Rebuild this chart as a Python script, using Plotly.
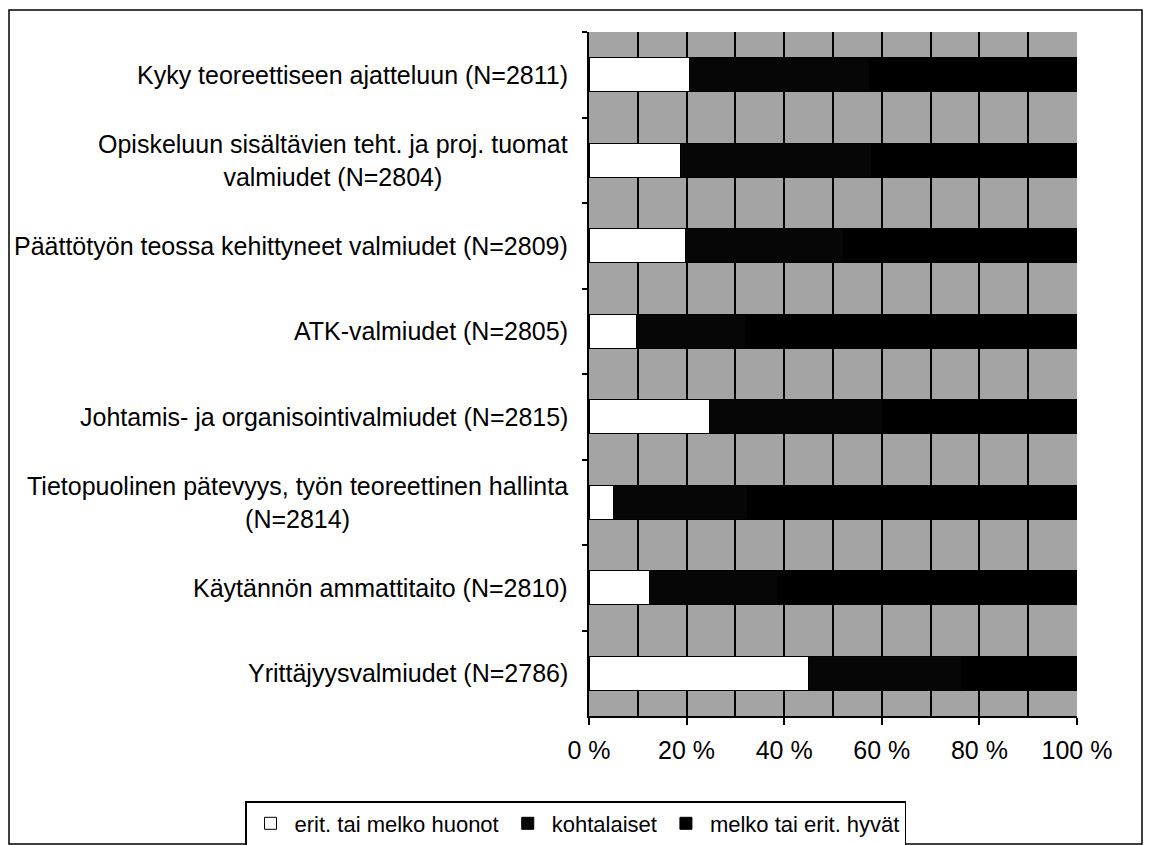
import plotly.graph_objects as go

categories = [
    "Kyky teoreettiseen ajatteluun (N=2811)",
    "Opiskeluun sisältävien teht. ja proj. tuomat<br>valmiudet (N=2804)",
    "Päättötyön teossa kehittyneet valmiudet (N=2809)",
    "ATK-valmiudet (N=2805)",
    "Johtamis- ja organisointivalmiudet (N=2815)",
    "Tietopuolinen pätevyys, työn teoreettinen hallinta<br>(N=2814)",
    "Käytännön ammattitaito (N=2810)",
    "Yrittäjyysvalmiudet (N=2786)",
]
huonot = [20.6, 18.7, 19.8, 9.8, 24.7, 5.0, 12.4, 44.9]
kohtalaiset = [36.9, 39.1, 32.4, 22.2, 35.4, 27.5, 26.3, 31.5]
hyvat = [42.5, 42.2, 47.8, 68.0, 39.9, 67.5, 61.3, 23.6]
series_names = ["erit. tai melko huonot", "kohtalaiset", "melko tai erit. hyvät"]
x_ticks = [0, 20, 40, 60, 80, 100]
x_ticklabels = ["0 %", "20 %", "40 %", "60 %", "80 %", "100 %"]

W, H = 1152, 845
L, R, T, B = 589, 1077, 32, 716
FONT = "Liberation Sans, Arial, Helvetica"

fig = go.Figure()
colors = ["#ffffff", "#060606", "#000000"]
for name, vals, col in zip(series_names, [huonot, kohtalaiset, hyvat], colors):
    fig.add_trace(go.Bar(
        y=categories, x=vals, name=name, orientation="h",
        marker=dict(color=col, line=dict(color="#000000", width=1)),
        width=0.4,
    ))

def px_x(p):
    return (p - L) / (R - L)

def px_y(p):
    return (B - p) / (B - T)

annotations = []
for c in categories:
    annotations.append(dict(
        x=px_x(L - 19), xref="paper", y=c, yref="y",
        text=c, showarrow=False, xanchor="right", yanchor="middle",
        align="center", font=dict(size=25, color="#000000", family=FONT),
    ))

fig.update_layout(
    width=W, height=H,
    margin=dict(l=L, r=W - R, t=T, b=H - B, pad=0, autoexpand=False),
    barmode="stack",
    plot_bgcolor="#a4a4a4",
    paper_bgcolor="#ffffff",
    font=dict(family=FONT, size=25, color="#000000"),
    showlegend=True,
    legend=dict(
        orientation="h", x=px_x(245), y=px_y(801), xanchor="left", yanchor="top",
        bordercolor="#000000", borderwidth=1.5, bgcolor="#ffffff",
        font=dict(size=22, family=FONT),
        itemwidth=38, traceorder="normal",
    ),
    annotations=annotations,
    shapes=[dict(type="rect", xref="paper", yref="paper",
                 x0=px_x(9), x1=px_x(1142), y0=px_y(844), y1=px_y(10),
                 line=dict(color="#000000", width=1.5), layer="below")],
)
fig.update_xaxes(
    range=[0, 100], tickvals=x_ticks, ticktext=x_ticklabels,
    showgrid=True, gridcolor="#000000", gridwidth=2,
    minor=dict(dtick=10, showgrid=True, gridcolor="#000000", gridwidth=2),
    showline=True, linecolor="#000000", linewidth=2,
    ticks="outside", ticklen=7, tickcolor="#000000", tickwidth=1.5,
    ticklabelstandoff=4,
    tickfont=dict(size=25), zeroline=False, fixedrange=True,
)
fig.update_yaxes(
    autorange="reversed", showticklabels=False, tickson="boundaries",
    ticks="outside", ticklen=5, tickcolor="#000000", tickwidth=1.5,
    showgrid=False, showline=True, linecolor="#000000", linewidth=2,
    fixedrange=True,
)
fig.write_html("out.html", config={"displayModeBar": False},
               post_script="document.body.style.margin='0';")
